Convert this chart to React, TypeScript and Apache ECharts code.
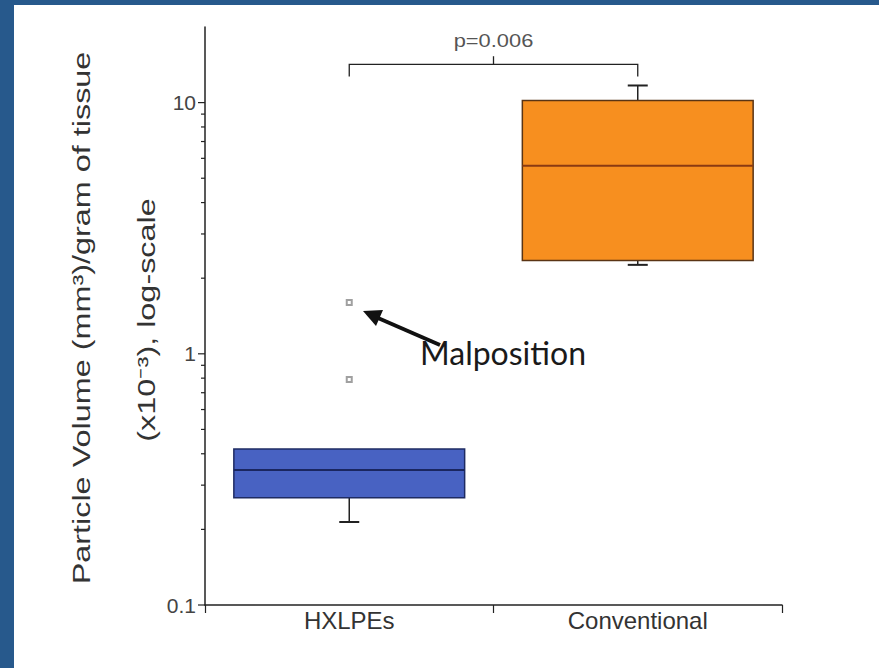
import React, { useEffect, useRef } from "react";
import * as echarts from "echarts";

const categories = ["HXLPEs", "Conventional"];
// [categoryIndex, lowerWhisker, Q1, median, Q3, upperWhisker]
const boxValues = [
  [0, 0.214, 0.267, 0.345, 0.418, 0.418],
  [1, 2.26, 2.35, 5.6, 10.2, 11.7],
];
const outliers = [
  [0, 1.6],
  [0, 0.79],
];
const majorTicks = [0.1, 1, 10];
const minorTicks = [0.2, 0.3, 0.4, 0.5, 0.6, 0.7, 0.8, 0.9, 2, 3, 4, 5, 6, 7, 8, 9];
// [leftCat, rightCat, endValue, barValue, tickTopValue]
const bracket = [[0, 1, 12.7, 14.2, 15.3]];
const pLabel = "p=0.006";
const boxFills = ["#4862c2", "#f78f1f"];
const boxBorders = ["#1e2b63", "#5a3414"];
const medianColors = ["#1a2660", "#8a3a12"];

const FONT = "'Liberation Sans', Arial, sans-serif";

export default function App() {
  const ref = useRef<HTMLDivElement>(null);
  useEffect(() => {
    const chart = echarts.init(ref.current!, null, { renderer: "svg" });
    const tickData = [
      ...majorTicks.map((v) => [0, v, 1]),
      ...minorTicks.map((v) => [0, v, 0]),
    ];
    const option: any = {
      animation: false,
      backgroundColor: "#ffffff",
      grid: { left: 205, right: 97, top: 27, bottom: 63 },
      xAxis: {
        type: "category",
        data: categories,
        axisLine: { lineStyle: { color: "#222", width: 1.5 } },
        axisTick: { show: true, length: 8, lineStyle: { color: "#222", width: 1.2 } },
        axisLabel: { fontSize: 24, color: "#333", fontFamily: FONT, margin: 3 },
        splitLine: { show: false },
      },
      yAxis: {
        type: "log",
        logBase: 10,
        min: 0.1,
        max: 20,
        axisLine: { show: true, lineStyle: { color: "#222", width: 1.5 } },
        axisTick: { show: false },
        splitLine: { show: false },
        axisLabel: {
          fontSize: 21,
          color: "#444",
          fontFamily: FONT,
          margin: 9,
          formatter: (v: number) => {
            const t = majorTicks.find((m) => Math.abs(v - m) < 1e-6 * m);
            return t !== undefined ? String(t) : "";
          },
        },
      },
      series: [
        {
          type: "custom",
          name: "box",
          data: boxValues,
          encode: { x: 0, y: [1, 2, 3, 4, 5] },
          renderItem: (params: any, api: any) => {
            const c = api.value(0);
            const bw = api.size([1, 0])[0] * 0.8;
            const pLo = api.coord([c, api.value(1)]);
            const pQ1 = api.coord([c, api.value(2)]);
            const pMed = api.coord([c, api.value(3)]);
            const pQ3 = api.coord([c, api.value(4)]);
            const pHi = api.coord([c, api.value(5)]);
            const cx = pQ1[0];
            const cap = 10;
            const idx = params.dataIndex;
            const children: any[] = [];
            if (Math.abs(pLo[1] - pQ1[1]) > 0.5) {
              children.push({ type: "line", shape: { x1: cx, y1: pQ1[1], x2: cx, y2: pLo[1] }, style: { stroke: "#222", lineWidth: 1.5 } });
              children.push({ type: "line", shape: { x1: cx - cap, y1: pLo[1], x2: cx + cap, y2: pLo[1] }, style: { stroke: "#222", lineWidth: 2 } });
            }
            if (Math.abs(pHi[1] - pQ3[1]) > 0.5) {
              children.push({ type: "line", shape: { x1: cx, y1: pQ3[1], x2: cx, y2: pHi[1] }, style: { stroke: "#222", lineWidth: 1.5 } });
              children.push({ type: "line", shape: { x1: cx - cap, y1: pHi[1], x2: cx + cap, y2: pHi[1] }, style: { stroke: "#222", lineWidth: 2 } });
            }
            children.push({
              type: "rect",
              shape: { x: cx - bw / 2, y: pQ3[1], width: bw, height: pQ1[1] - pQ3[1] },
              style: { fill: boxFills[idx], stroke: boxBorders[idx], lineWidth: 1.5 },
            });
            children.push({
              type: "line",
              shape: { x1: cx - bw / 2, y1: pMed[1], x2: cx + bw / 2, y2: pMed[1] },
              style: { stroke: medianColors[idx], lineWidth: 2 },
            });
            return { type: "group", children };
          },
          z: 2,
        },
        {
          type: "scatter",
          name: "outliers",
          data: outliers,
          symbol: "emptyRect",
          symbolSize: 5,
          itemStyle: { color: "#888", borderWidth: 1 },
          z: 3,
        },
        {
          type: "custom",
          name: "bracket",
          data: bracket,
          encode: { x: [0, 1], y: [2, 3, 4] },
          renderItem: (params: any, api: any) => {
            const l0 = api.coord([api.value(0), api.value(2)]);
            const l1 = api.coord([api.value(0), api.value(3)]);
            const r0 = api.coord([api.value(1), api.value(2)]);
            const r1 = api.coord([api.value(1), api.value(3)]);
            const top = api.coord([api.value(0), api.value(4)]);
            const mx = (l1[0] + r1[0]) / 2;
            return {
              type: "group",
              children: [
                {
                  type: "polyline",
                  shape: { points: [l0, l1, r1, r0] },
                  style: { stroke: "#222", lineWidth: 1.3, fill: "none" },
                },
                {
                  type: "line",
                  shape: { x1: mx, y1: l1[1], x2: mx, y2: top[1] },
                  style: { stroke: "#222", lineWidth: 1.3 },
                },
                {
                  type: "text",
                  x: mx,
                  y: top[1] - 7,
                  scaleX: 1.15,
                  style: { text: pLabel, fontSize: 19, fill: "#555", fontFamily: FONT, align: "center", verticalAlign: "bottom" },
                },
              ],
            };
          },
          z: 3,
        },
        {
          type: "custom",
          name: "ticks",
          data: tickData,
          encode: { y: 1 },
          clip: false,
          renderItem: (params: any, api: any) => {
            const p = api.coord([0, api.value(1)]);
            const x0 = params.coordSys.x;
            const len = api.value(2) ? 7 : 4;
            return {
              type: "line",
              shape: { x1: x0 - len, y1: p[1], x2: x0, y2: p[1] },
              style: { stroke: "#222", lineWidth: 1.2 },
            };
          },
          z: 3,
        },
      ],
      graphic: [
        { type: "rect", left: 0, top: 0, shape: { width: 14, height: 668 }, style: { fill: "#27598c" } },
        { type: "rect", left: 0, top: 0, shape: { width: 879, height: 5 }, style: { fill: "#27598c" } },
        {
          type: "text",
          x: 82,
          y: 318,
          rotation: Math.PI / 2,
          scaleX: 1.35,
          style: { text: "Particle Volume (mm³)/gram of tissue", fontSize: 24, fill: "#333", fontFamily: FONT, align: "center", verticalAlign: "middle" },
        },
        {
          type: "text",
          x: 147,
          y: 320,
          rotation: Math.PI / 2,
          scaleX: 1.35,
          style: { text: "(x10⁻³), log-scale", fontSize: 24, fill: "#333", fontFamily: FONT, align: "center", verticalAlign: "middle" },
        },
        {
          type: "line",
          shape: { x1: 440, y1: 345, x2: 378, y2: 318 },
          style: { stroke: "#111", lineWidth: 4 },
        },
        {
          type: "polygon",
          shape: { points: [[363, 311], [383, 310], [376, 326]] },
          style: { fill: "#111" },
        },
        {
          type: "text",
          x: 420,
          y: 352,
          style: { text: "Malposition", fontSize: 32, fill: "#1a1a1a", fontFamily: "Lato, 'Open Sans', sans-serif", align: "left", verticalAlign: "middle" },
        },
      ],
    };
    chart.setOption(option);
    return () => chart.dispose();
  }, []);
  return (
    <div
      ref={ref}
      style={{ position: "absolute", left: 0, top: 0, width: 879, height: 668 }}
    />
  );
}
